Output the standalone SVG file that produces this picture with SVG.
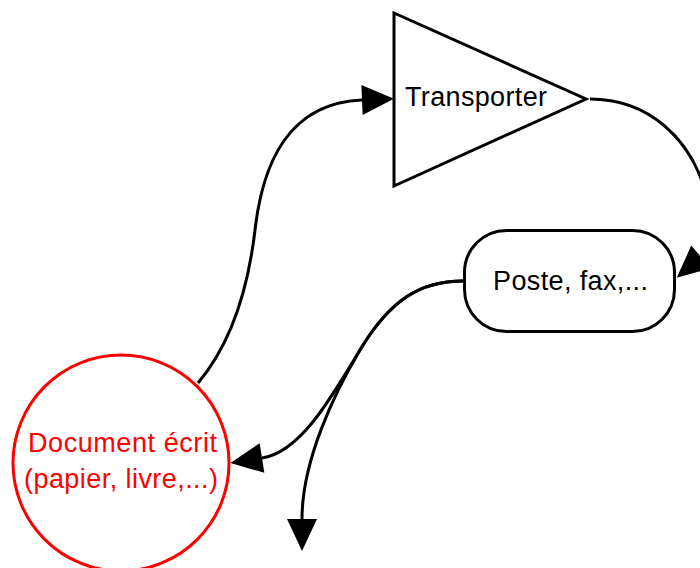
<svg xmlns="http://www.w3.org/2000/svg" width="700" height="568" viewBox="0 0 700 568">
<defs>
<style>
.shape{fill:#ffffff;stroke:#000000;stroke-width:3}
.lbl{font-family:"Liberation Sans",Arial,sans-serif;font-size:27px;fill:#000000}
.red{fill:#ff0000}
.conn{fill:none;stroke:#000000;stroke-width:3}
</style>
<marker id="arr" markerUnits="userSpaceOnUse" markerWidth="34" markerHeight="32" refX="0" refY="15" orient="auto" overflow="visible">
<path d="M0,0 L32,15 L0,30 z" fill="#000000"/>
</marker>
</defs>
<rect width="700" height="568" fill="#ffffff"/>
<g id="connectors">
<path class="conn" d="M198,383 C230,345 248,290 255,230 C263,160 290,103 362,100" marker-end="url(#arr)"/>
<path class="conn" d="M590,99 C650,99 690,140 705,190 C715,220 715,245 701,257" marker-end="url(#arr)"/>
<path class="conn" d="M463,281 C420,281 390,300 360,350 C330,400 300,452 262,458" marker-end="url(#arr)"/>
<path class="conn" d="M463,281 C420,281 390,300 360,350 C335,392 302,460 302,519" marker-end="url(#arr)"/>
</g>
<g id="transporter">
<polygon class="shape" points="394,13 394,186 586,99"/>
<text class="lbl" x="405" y="106" textLength="142">Transporter</text>
</g>
<g id="poste">
<rect class="shape" x="464.5" y="230.5" width="210" height="101" rx="42" ry="42"/>
<text class="lbl" x="493" y="289.5" textLength="155">Poste, fax,...</text>
</g>
<g id="document">
<circle cx="121" cy="463" r="108" fill="#ffffff" stroke="#ff0000" stroke-width="3"/>
<text class="lbl red" x="28" y="452" textLength="189">Document écrit</text>
<text class="lbl red" x="24" y="488" textLength="194">(papier, livre,...)</text>
</g>
</svg>
